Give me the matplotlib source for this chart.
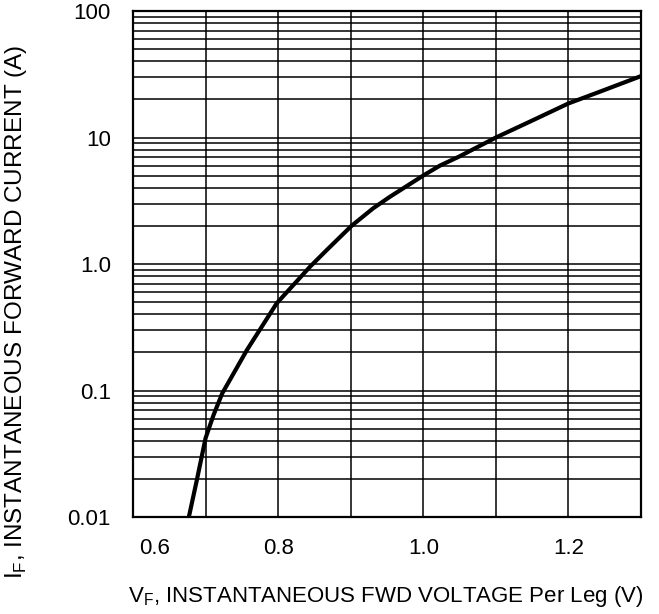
import numpy as np
import matplotlib
matplotlib.use('Agg')
import matplotlib.pyplot as plt
import matplotlib.transforms as mtransforms
from matplotlib.ticker import FixedLocator, LogLocator, NullFormatter

plt.rcParams['font.family'] = ['Liberation Sans', 'DejaVu Sans']
plt.rcParams['mathtext.fontset'] = 'custom'
plt.rcParams['mathtext.rm'] = 'Liberation Sans'

# forward voltage (V) vs forward current (A)
vf = [0.677, 0.688, 0.700, 0.711, 0.723, 0.757, 0.798, 0.844, 0.867, 0.901,
      0.931, 0.954, 1.001, 1.023, 1.050, 1.100, 1.151, 1.200, 1.243, 1.300]
i_f = [0.010, 0.0196, 0.042, 0.064, 0.095, 0.209, 0.489, 0.953, 1.29, 2.0,
       2.76, 3.40, 5.05, 6.0, 7.1, 10.0, 13.7, 18.6, 23.0, 30.6]

x_ticks = [0.6, 0.8, 1.0, 1.2]
x_labels = ['0.6', '0.8', '1.0', '1.2']
x_grid = [0.7, 0.8, 0.9, 1.0, 1.1, 1.2]
y_ticks = [0.01, 0.1, 1, 10, 100]
y_labels = ['0.01', '0.1', '1.0', '10', '100']

fig = plt.figure(figsize=(6.59, 6.14), dpi=100)
ax = fig.add_axes([0.2018, 0.158, 0.7709, 0.824])

ax.plot(vf, i_f, color='black', lw=3, solid_joinstyle='round', solid_capstyle='butt')

ax.set_yscale('log')
ax.set_xlim(0.6, 1.3)
ax.set_ylim(0.01, 100)

ax.xaxis.set_major_locator(FixedLocator(x_ticks))
ax.set_xticklabels(x_labels)
ax.xaxis.set_minor_locator(FixedLocator(x_grid))
ax.yaxis.set_major_locator(FixedLocator(y_ticks))
ax.set_yticklabels(y_labels)
ax.yaxis.set_minor_locator(LogLocator(base=10, subs=np.arange(2, 10)))
ax.yaxis.set_minor_formatter(NullFormatter())

ax.grid(True, which='both', color='black', lw=1.1)
ax.set_axisbelow(True)
ax.tick_params(which='both', length=0)
ax.tick_params(axis='x', labelsize=16, pad=15)
ax.tick_params(axis='y', labelsize=16, pad=16)
for s in ax.spines.values():
    s.set_linewidth(1.6)
    s.set_color('black')

# first x label sits a bit to the right of the corner
lab = ax.get_xticklabels()[0]
lab.set_transform(lab.get_transform() + mtransforms.ScaledTranslation(22/100, 0, fig.dpi_scale_trans))

fig.text(0.585, 0.028, r'V$_\mathregular{F}$, INSTANTANEOUS FWD VOLTAGE Per Leg (V)',
         ha='center', va='center', fontsize=16)
fig.text(0.025, 0.492, r'I$_\mathregular{F}$, INSTANTANEOUS FORWARD CURRENT (A)',
         ha='center', va='center', rotation=90, fontsize=17.5)

plt.savefig('out.png', dpi=100)
